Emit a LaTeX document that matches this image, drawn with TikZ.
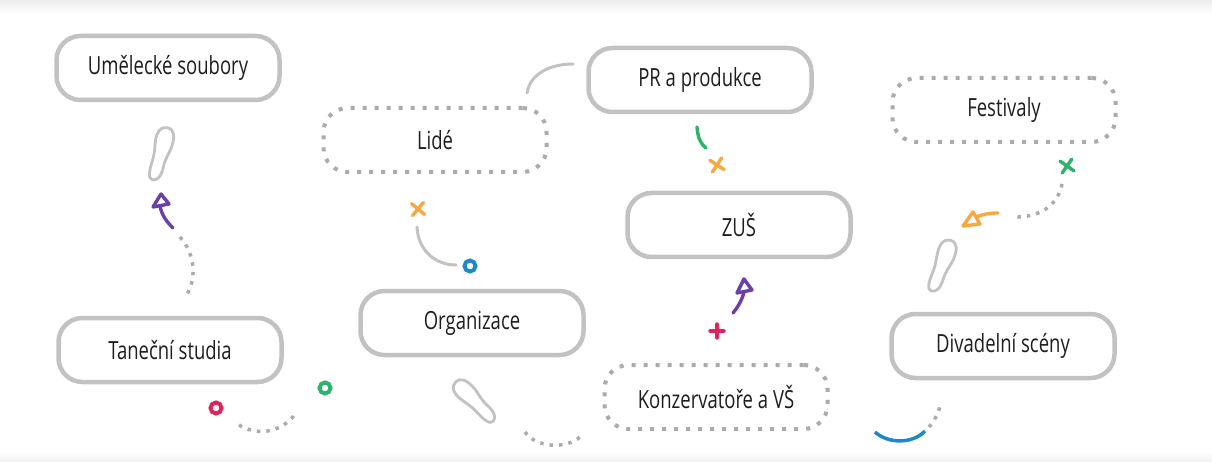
\documentclass[tikz,border=0pt]{standalone}
\usepackage{fontspec}
\setmainfont{Open Sans}[FakeStretch=0.74]
\definecolor{boxgray}{HTML}{C2C2C2}
\definecolor{dotgray}{HTML}{ABABAB}
\definecolor{textc}{HTML}{1E1E1E}
\definecolor{corange}{HTML}{F5A940}
\definecolor{cgreen}{HTML}{2DB36A}
\definecolor{cblue}{HTML}{1E88C8}
\definecolor{cpink}{HTML}{E0245E}
\definecolor{cpurple}{HTML}{6A3FA8}
\tikzset{
  box/.style={draw=boxgray, line width=4.5pt, rounded corners=24pt, minimum width=223pt,
    minimum height=64pt, fill=white, text=textc, font=\fontsize{25}{27}\selectfont},
  dbox/.style={box, draw=dotgray, line width=4pt, dash pattern=on 4pt off 8pt},
  dotline/.style={draw=dotgray, line width=3.5pt, dash pattern=on 3.5pt off 6pt},
  grayline/.style={draw=boxgray, line width=3pt, line cap=round},
  footline/.style={draw=boxgray, line width=2.8pt},
  stroke/.style={line width=3.4pt, line cap=round},
  ringmark/.style={line width=4pt},
  foot/.pic={\draw[footline] (1,-27) .. controls (8,-27) and (10,-20) .. (9,-10)
     .. controls (8,-2) and (5,3) .. (5,12) .. controls (5,22) and (2,27) .. (-3,27)
     .. controls (-8,27) and (-8,18) .. (-7,8) .. controls (-6,-2) and (-9,-10) .. (-8,-18)
     .. controls (-7,-24) and (-4,-27) .. (1,-27) -- cycle;},
  xmark/.pic={\draw[stroke,pic actions] (-6,-6) -- (6,6) (-6,6) -- (6,-6);}
}
\begin{document}
\begin{tikzpicture}[x=1pt,y=-1pt]
\useasboundingbox (0,0) rectangle (1212,462);
\fill[white] (0,0) rectangle (1212,462);
\shade[top color=black!7, bottom color=white] (0,0) rectangle (1212,14);
\shade[top color=white, bottom color=black!5] (0,450) rectangle (1212,462);

% boxes
\node[box]  (ume) at (168,68)  {Umělecké soubory};
\node[dbox] (lid) at (435,140) {Lidé};
\node[box]  (pr)  at (700,80)  {PR a produkce};
\node[box]  (zus) at (739,225) {ZUŠ};
\node[dbox] (fes) at (1004,110) {Festivaly};
\node[box]  (tan) at (170,350) {Taneční studia};
\node[box]  (org) at (472,323) {Organizace};
\node[dbox] (kon) at (716,397) {Konzervatoře a VŠ};
\node[box]  (div) at (1003,346) {Divadelní scény};

% Umělecké soubory -> Taneční studia
\pic[rotate=-12] at (161,154) {foot};
\draw[cpurple, stroke, line join=round] (161,194) -- (153,207) -- (169,204) -- cycle;
\draw[cpurple, stroke] (160,206) .. controls (162,216) and (167,222) .. (173,228);
\draw[dotline] (180,237) .. controls (196,255) and (196,280) .. (187,294);

% PR arc
\draw[grayline] (527,93) .. controls (530,74) and (550,64) .. (573,64);

% Lidé
\pic[corange, rotate=5] at (418,209) {xmark};
\draw[grayline] (417,227) .. controls (418,250) and (435,265) .. (456,265);
\draw[cblue, ringmark] (470,266) circle (5.5);

% PR -> ZUŠ
\draw[cgreen, stroke] (697,127) .. controls (698,138) and (700,143) .. (706,148);
\pic[corange, rotate=12] at (717,165) {xmark};

% ZUŠ <- Konzervatoře
\draw[cpurple, stroke, line join=round] (744,279) -- (737,293) -- (752,290) -- cycle;
\draw[cpurple, stroke] (744,292) .. controls (742,300) and (738,307) .. (733,313);
\draw[cpink, stroke] (710,331) -- (724,331) (717,324) -- (717,338);

% Festivaly
\pic[cgreen, rotate=10] at (1067,166) {xmark};
\draw[dotline] (1062,184) .. controls (1058,205) and (1040,218) .. (1013,217);
\draw[corange, stroke, line join=round] (963,226) -- (973,212) -- (980,224) -- cycle;
\draw[corange, stroke] (976,217) .. controls (984,214) and (990,213) .. (998,213);
\pic[rotate=-17] at (942,266) {foot};

% Taneční studia
\draw[cpink, ringmark] (216,408) circle (5.5);
\draw[cgreen, ringmark] (325,388) circle (5.5);
\draw[dotline] (239,425) .. controls (255,435) and (280,435) .. (296,413);

% Organizace
\pic[rotate=48] at (475,401) {foot};
\draw[dotline] (525,432) .. controls (535,447) and (565,450) .. (580,437);

% Divadelní scény
\draw[cblue, line width=3.5pt] (875,432) .. controls (888,444) and (913,444) .. (925,431);
\draw[dotline] (929,427) .. controls (935,420) and (939,412) .. (941,402);
\end{tikzpicture}
\end{document}
